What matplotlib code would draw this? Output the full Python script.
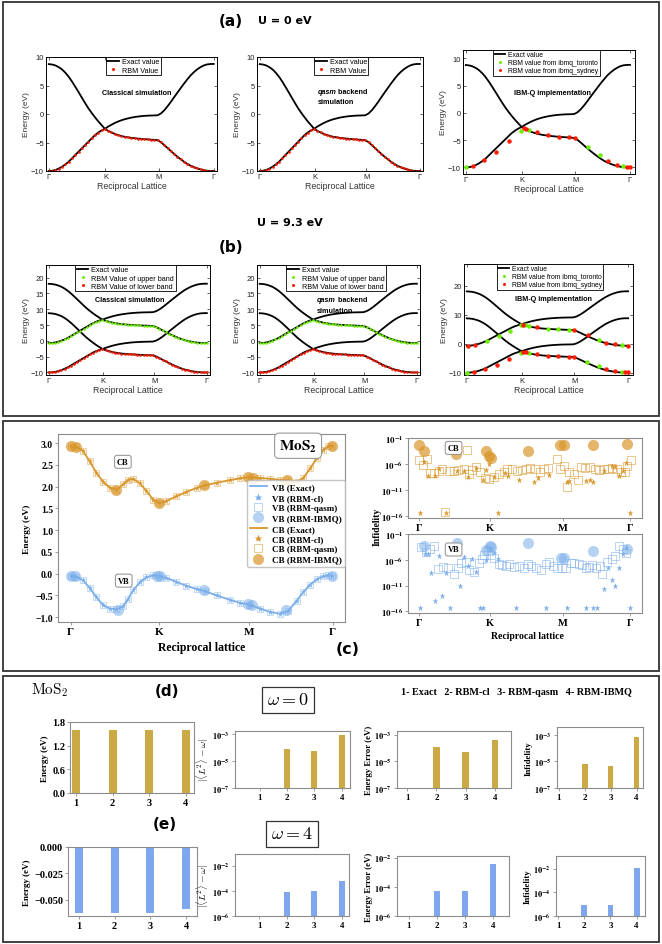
import numpy as np
import matplotlib
matplotlib.use("Agg")
import matplotlib.pyplot as plt
from matplotlib.patches import Rectangle
from matplotlib.lines import Line2D
from matplotlib.ticker import NullLocator

# ====================== DATA ======================
# (a) U = 0 eV bands along the Gamma-K-M-Gamma path (k-grid of the RBM samples)
band_k = np.linspace(0.0, 2.912, 51)
a_upper = [8.75, 8.68, 8.52, 8.22, 7.82, 7.25, 6.55, 5.72, 4.80, 3.85, 2.88, 1.92, 1.00, 0.18, -0.58, -1.30, -1.95, -2.60,
           -2.20, -1.88, -1.58, -1.32, -1.10, -0.92, -0.77, -0.64, -0.53, -0.45, -0.38, -0.33, -0.29, -0.27, -0.25, -0.22,
           0.10, 0.65, 1.35, 2.13, 2.95, 3.76, 4.55, 5.34, 6.08, 6.78, 7.35, 7.84, 8.22, 8.52, 8.70, 8.77, 8.78]
a_lower = [-10.0, -9.95, -9.83, -9.58, -9.25, -8.85, -8.38, -7.80, -7.20, -6.62, -6.03, -5.45, -4.87, -4.28, -3.70, -3.25, -2.88, -2.60,
           -2.95, -3.24, -3.50, -3.70, -3.86, -4.00, -4.10, -4.18, -4.25, -4.31, -4.37, -4.42, -4.46, -4.50, -4.54, -4.60,
           -4.95, -5.45, -5.98, -6.50, -7.00, -7.49, -7.95, -8.37, -8.75, -9.07, -9.33, -9.55, -9.72, -9.86, -9.95, -10.0, -10.0]
# (b) U = 9.3 eV : two extra bands
b_band1 = [18.05, 17.98, 17.82, 17.52, 17.12, 16.55, 15.85, 15.02, 14.10, 13.15, 12.18, 11.22, 10.30, 9.48, 8.72, 8.00, 7.35, 6.70,
           7.10, 7.42, 7.72, 7.98, 8.20, 8.38, 8.53, 8.66, 8.77, 8.85, 8.92, 8.97, 9.01, 9.03, 9.05, 9.08,
           9.40, 9.95, 10.65, 11.43, 12.25, 13.06, 13.85, 14.64, 15.38, 16.08, 16.65, 17.14, 17.52, 17.82, 18.00, 18.07, 18.08]
b_band3 = [-0.70, -0.65, -0.53, -0.28, 0.05, 0.45, 0.92, 1.50, 2.10, 2.68, 3.27, 3.85, 4.43, 5.02, 5.60, 6.05, 6.42, 6.70,
           6.35, 6.06, 5.80, 5.60, 5.44, 5.30, 5.20, 5.12, 5.05, 4.99, 4.93, 4.88, 4.84, 4.80, 4.76, 4.70,
           4.35, 3.85, 3.32, 2.80, 2.30, 1.81, 1.35, 0.93, 0.55, 0.23, -0.03, -0.25, -0.42, -0.56, -0.65, -0.70, -0.70]
# IBM-Q points, panel (a)
a_tor_k = [0.0, 0.98, 1.125, 2.167, 2.387, 2.794]
a_tor_e = [-10.0, -3.3, -3.1, -6.3, -7.8, -9.75]
a_syd_k = [0.125, 0.325, 0.544, 0.763, 1.023, 1.068, 1.268, 1.456, 1.649, 1.837, 1.94, 2.52, 2.678, 2.85, 2.91]
a_syd_e = [-9.8, -8.7, -7.2, -5.2, -2.7, -2.9, -3.6, -4.1, -4.35, -4.5, -4.6, -8.9, -9.55, -9.9, -9.9]
# IBM-Q points, panel (b)
b_tor_up_k = [0.36, 0.58, 0.78, 0.98, 1.05, 1.125, 1.46, 1.65, 1.84, 2.39, 2.80]
b_tor_up_e = [0.9, 2.7, 4.3, 6.5, 6.4, 6.0, 5.2, 4.95, 4.75, 1.2, -0.55]
b_syd_up_k = [0.025, 0.14, 1.02, 1.27, 1.94, 2.18, 2.52, 2.68, 2.91]
b_syd_up_e = [-0.65, -0.55, 6.6, 5.7, 4.7, 2.85, 0.35, -0.25, -0.68]
b_tor_lo_k = [0.0, 0.98, 1.125, 2.167, 2.387, 2.794]
b_tor_lo_e = [-10.0, -3.3, -3.1, -6.3, -7.8, -9.75]
b_syd_lo_k = [0.125, 0.325, 0.544, 0.763, 1.02, 1.06, 1.27, 1.46, 1.65, 1.84, 1.94, 2.52, 2.68, 2.85, 2.91]
b_syd_lo_e = [-9.8, -8.7, -7.2, -5.2, -2.75, -2.9, -3.7, -4.2, -4.4, -4.55, -4.7, -8.9, -9.5, -9.85, -9.9]

# (c) MoS2 bands
c_k = [0.000, 0.064, 0.140, 0.215, 0.291, 0.366, 0.442, 0.517, 0.592, 0.649, 0.706, 0.781, 0.857, 0.932, 1.000,
       1.083, 1.196, 1.309, 1.423, 1.517, 1.649, 1.800, 1.913, 2.019, 2.140, 2.253, 2.366, 2.460, 2.555, 2.630,
       2.706, 2.781, 2.857, 2.913, 2.958]
c_cb = [2.93, 2.92, 2.82, 2.58, 2.32, 2.11, 1.98, 1.93, 2.05, 2.16, 2.18, 2.08, 1.90, 1.70, 1.62,
        1.67, 1.78, 1.88, 1.97, 2.03, 2.09, 2.15, 2.19, 2.22, 2.20, 2.18, 2.16, 2.15, 2.10, 2.20,
        2.42, 2.65, 2.85, 2.93, 2.93]
c_vb = [-0.05, -0.07, -0.15, -0.33, -0.54, -0.72, -0.80, -0.82, -0.75, -0.58, -0.38, -0.20, -0.08, -0.04, -0.05,
        -0.10, -0.19, -0.28, -0.35, -0.40, -0.50, -0.60, -0.67, -0.71, -0.80, -0.88, -0.92, -0.85, -0.62, -0.42,
        -0.25, -0.13, -0.06, -0.04, -0.05]
cb_ibm_k = [0.0, 0.06, 0.51, 1.0, 1.51, 2.0, 2.06, 2.44, 2.95]
cb_ibm_e = [2.93, 2.90, 1.92, 1.62, 2.03, 2.22, 2.20, 2.15, 2.93]
vb_ibm_k = [0.0, 0.05, 0.53, 0.98, 1.01, 1.51, 2.0, 2.05, 2.43, 2.95]
vb_ibm_e = [-0.05, -0.06, -0.83, -0.06, -0.05, -0.37, -0.70, -0.72, -0.84, -0.05]

# (c) infidelities (log10)
cb_sq_k = [0.0, 0.056, 0.112, 0.164, 0.220, 0.280, 0.327, 0.374, 0.421, 0.491, 0.551, 0.631, 0.678, 0.710, 0.748,
           0.804, 0.864, 0.935, 0.991, 1.051, 1.121, 1.192, 1.238, 1.308, 1.379, 1.449, 1.509, 1.565, 1.636, 1.696,
           1.752, 1.813, 1.939, 1.986, 2.033, 2.079, 2.103, 2.173, 2.234, 2.280, 2.336, 2.407, 2.477, 2.523, 2.593,
           2.654, 2.710, 2.780, 2.841, 2.888, 2.925, 2.981]
cb_sq_log = [-5.3, -6.1, -5.0, -7.7, -7.6, -7.4, -6.9, -15.2, -7.35, -7.35, -7.2, -6.9, -3.2, -7.9, -7.2,
             -6.6, -7.5, -8.7, -8.8, -8.5, -7.9, -7.5, -6.9, -7.0, -7.4, -7.2, -7.0, -6.8, -6.9, -7.5,
             -7.0, -6.8, -5.0, -6.9, -6.4, -10.4, -7.5, -7.9, -9.1, -6.6, -6.8, -6.5, -6.9, -7.2, -6.9,
             -7.0, -6.8, -6.9, -7.5, -7.5, -6.4, -5.3]
cb_st_k = [0.014, 0.074, 0.130, 0.223, 0.284, 0.386, 0.540, 0.642, 0.698, 0.805, 0.898, 0.944, 0.991, 1.060, 1.107,
           1.209, 1.256, 1.409, 1.619, 1.674, 1.828, 2.074, 2.107, 2.349, 2.395, 2.447, 2.595, 2.712, 2.758, 2.805,
           2.865, 2.912, 2.967]
cb_st_log = [-15.4, -5.57, -8.18, -8.18, -7.0, -15.4, -7.39, -7.39, -8.37, -6.74, -9.02, -7.2, -5.89, -8.37, -15.4,
             -7.65, -8.18, -8.96, -9.35, -8.7, -8.05, -9.48, -9.22, -9.15, -9.02, -9.35, -7.39, -6.41, -6.54, -8.18,
             -7.39, -5.7, -15.4]
cb_ci_k = [0.0, 0.074, 0.526, 0.944, 0.991, 1.014, 1.526, 1.981, 2.037, 2.447, 2.921]
cb_ci_log = [-2.3, -3.48, -4.13, -3.48, -4.39, -4.91, -3.48, -2.43, -2.3, -2.3, -2.17]
vb_sq_k = [0.037, 0.107, 0.153, 0.214, 0.270, 0.340, 0.409, 0.493, 0.549, 0.595, 0.665, 0.712, 0.781, 0.842, 0.884,
           0.921, 0.977, 1.014, 1.060, 1.130, 1.163, 1.223, 1.270, 1.340, 1.409, 1.479, 1.526, 1.581, 1.642, 1.712,
           1.781, 1.828, 1.888, 1.944, 2.014, 2.060, 2.130, 2.177, 2.247, 2.293, 2.340, 2.386, 2.433, 2.479, 2.540,
           2.572, 2.642, 2.712, 2.758, 2.805, 2.865, 2.912]
vb_sq_log = [-3.6, -4.4, -3.9, -3.3, -7.85, -7.4, -7.5, -8.8, -7.65, -6.7, -6.4, -8.0, -8.4, -6.7, -5.9,
             -5.1, -4.3, -5.0, -5.6, -6.9, -7.0, -7.2, -6.9, -7.4, -7.2, -7.5, -6.9, -7.2, -7.5, -8.0,
             -6.9, -6.4, -7.2, -7.65, -7.5, -7.5, -6.7, -6.7, -6.9, -7.1, -7.65, -7.4, -7.1, -7.5, -7.2,
             -8.7, -6.5, -5.9, -5.2, -3.3, -3.9, -4.6]
vb_st_k = [0.014, 0.084, 0.130, 0.177, 0.223, 0.279, 0.330, 0.386, 0.433, 0.586, 0.642, 0.688, 0.744, 0.805, 0.865,
           0.898, 0.944, 1.005, 1.051, 1.107, 1.363, 1.781, 2.084, 2.340, 2.447, 2.493, 2.595, 2.656, 2.712, 2.758,
           2.809, 2.865, 2.912, 2.967]
vb_st_log = [-15.4, -4.78, -4.78, -8.5, -14.05, -5.24, -13.07, -8.5, -15.4, -11.1, -5.44, -7.2, -5.76, -8.37, -15.4,
             -15.4, -6.09, -3.74, -4.59, -5.89, -15.4, -15.4, -15.4, -15.4, -15.4, -15.4, -11.63, -7.52, -9.94, -11.1,
             -7.65, -4.91, -3.74, -15.4]
vb_ci_k = [0.074, 0.535, 0.944, 1.0, 1.014, 1.526, 1.991, 2.037, 2.447, 2.921]
vb_ci_log = [-3.28, -2.83, -4.13, -3.28, -3.48, -2.83, -5.7, -5.57, -4.26, -3.94]

# (d) omega = 0 and (e) omega = 4 bar charts
methods = [1, 2, 3, 4]
methods_rbm = [2, 3, 4]
d_energy = [1.60, 1.60, 1.60, 1.60]
d_l2 = [8.3e-5, 5.6e-5, 8.5e-4]
d_err = [1.1e-4, 4.7e-5, 3.8e-4]
d_inf = [6.6e-6, 4.5e-6, 7.0e-4]
e_energy = [-0.0625, -0.0625, -0.0625, -0.0593]
e_l2 = [8.3e-5, 1.0e-4, 5.6e-4]
e_err = [5.0e-5, 5.5e-5, 3.5e-3]
e_inf = [8.7e-6, 8.7e-6, 1.2e-2]

path_labels = ['Γ', 'K', 'M', 'Γ']
ab_ticks = [0.0, 1.0, 1.94, 2.91]
c_ticks = [0.0, 1.0, 2.02, 2.96]

# ====================== STYLE ======================
plt.rcParams['font.family'] = ['Liberation Sans', 'DejaVu Sans']
plt.rcParams['mathtext.fontset'] = 'stix'
SERIF = 'Liberation Serif'
CB_C = '#D9962B'
VB_C = '#7AAEEA'
BAR_D = '#CBAA45'
BAR_E = '#7EA7EE'
GREEN = '#6CF000'
RED = '#FF1A00'

W, H = 662, 945
fig = plt.figure(figsize=(W / 100, H / 100), dpi=100)


def rect(x0, y0, x1, y1):
    return [x0 / W, 1 - y1 / H, (x1 - x0) / W, (y1 - y0) / H]


def ftext(x, y, s, **kw):
    return fig.text(x / W, 1 - y / H, s, **kw)


# outer frames
for (x0, y0, x1, y1) in [(3, 3, 659, 417), (3, 422, 659, 672), (3, 677, 659, 943)]:
    fig.add_artist(Rectangle((x0 / W, 1 - y1 / H), (x1 - x0) / W, (y1 - y0) / H,
                             transform=fig.transFigure, fill=False, lw=1.3, ec='#333333'))


def mat_axes(px, ylim, yticks, xlim):
    ax = fig.add_axes(rect(*px))
    ax.set_xlim(*xlim)
    ax.set_ylim(*ylim)
    ax.set_xticks(ab_ticks, path_labels)
    ax.set_yticks(yticks)
    ax.tick_params(direction='in', length=2.5, width=0.5, labelsize=5.5, top=True, right=True, pad=1.5,
                   colors='#222222')
    for s in ax.spines.values():
        s.set_linewidth(0.7)
    ax.set_xlabel('Reciprocal Lattice', fontsize=6.3, labelpad=1.0, color='#333333')
    ax.set_ylabel('Energy (eV)', fontsize=6, labelpad=0.5, color='#333333')
    return ax


def mat_legend(ax, handles, labels, xc, fs=5.2):
    leg = ax.legend(handles, labels, loc='upper center', bbox_to_anchor=(xc, 1.0), fontsize=fs,
                    frameon=True, fancybox=False, edgecolor='black', framealpha=1, borderpad=0.2,
                    labelspacing=0.15, handlelength=1.6, handletextpad=0.4, borderaxespad=0)
    leg.get_frame().set_linewidth(0.6)


exact_h = Line2D([], [], color='black', lw=1.3)
red_h = Line2D([], [], ls='none', marker='o', ms=2.2, color=RED, mec='none')
green_h = Line2D([], [], ls='none', marker='o', ms=2.2, color=GREEN, mec='none')

# ---------- (a) ----------
ftext(231, 21, '(a)', fontsize=11, weight='bold', family='DejaVu Sans', ha='center', va='center')
ftext(285, 21, 'U = 0 eV', fontsize=8, weight='bold', family='DejaVu Sans', ha='center', va='center')
AB_X = (-0.05, 2.97)
for i, px in enumerate([(46, 58, 217, 172), (257, 58, 423, 172)]):
    ax = mat_axes(px, (-10, 10), [-10, -5, 0, 5, 10], AB_X)
    ax.plot(band_k, a_upper, 'k-', lw=1.3)
    ax.plot(band_k, a_lower, 'k-', lw=1.3)
    ax.plot(band_k, a_lower, 'o', color=RED, ms=1.9, mec='none')
    mat_legend(ax, [exact_h, red_h], ['Exact value', 'RBM Value'], 0.51 if i == 0 else 0.506)
    if i == 0:
        ax.text(0.53, 0.69, 'Classical simulation', transform=ax.transAxes, ha='center', va='center',
                fontsize=5.2, weight='bold')
    else:
        t1 = ax.text(0.364, 0.693, 'qasm', transform=ax.transAxes, ha='left', va='center',
                     fontsize=5.2, weight='bold', style='italic')
        ax.annotate(' backend', xy=(1, 0.5), xycoords=t1, ha='left', va='center', fontsize=5.2, weight='bold')
        ax.text(0.364, 0.614, 'simulation', transform=ax.transAxes, ha='left', va='center',
                fontsize=5.2, weight='bold')

ax = mat_axes((463, 51, 635, 175), (-11.2, 11.5), [-10, -5, 0, 5, 10], (-0.05, 3.0))
ax.plot(band_k, a_upper, 'k-', lw=1.3)
ax.plot(band_k, a_lower, 'k-', lw=1.3)
ax.plot(a_tor_k, a_tor_e, 'o', color=GREEN, ms=3.2, mec='none', zorder=4)
ax.plot(a_syd_k, a_syd_e, 'o', color=RED, ms=3.2, mec='none', zorder=4)
mat_legend(ax, [exact_h, green_h, red_h], ['Exact value', 'RBM value from ibmq_toronto',
                                           'RBM value from ibmq_sydney'], 0.485, fs=4.9)
ax.text(0.52, 0.66, 'IBM-Q implementation', transform=ax.transAxes, ha='center', va='center',
        fontsize=5.2, weight='bold')

# ---------- (b) ----------
ftext(290, 223, 'U = 9.3 eV', fontsize=8, weight='bold', family='DejaVu Sans', ha='center', va='center')
ftext(231, 247, '(b)', fontsize=11, weight='bold', family='DejaVu Sans', ha='center', va='center')
for i, px in enumerate([(46, 266, 210, 376), (257, 266, 420, 376)]):
    ax = mat_axes(px, (-10.8, 24), [-10, -5, 0, 5, 10, 15, 20], AB_X)
    for band in (b_band1, a_upper, b_band3, a_lower):
        ax.plot(band_k, band, 'k-', lw=1.3)
    ax.plot(band_k, b_band3, 'o', color=GREEN, ms=1.9, mec='none')
    ax.plot(band_k, a_lower, 'o', color=RED, ms=1.9, mec='none')
    mat_legend(ax, [exact_h, green_h, red_h], ['Exact value', 'RBM Value of upper band',
                                               'RBM Value of lower band'], 0.485)
    if i == 0:
        ax.text(0.51, 0.69, 'Classical simulation', transform=ax.transAxes, ha='center', va='center',
                fontsize=5.2, weight='bold')
    else:
        t1 = ax.text(0.366, 0.69, 'qasm', transform=ax.transAxes, ha='left', va='center',
                     fontsize=5.2, weight='bold', style='italic')
        ax.annotate(' backend', xy=(1, 0.5), xycoords=t1, ha='left', va='center', fontsize=5.2, weight='bold')
        ax.text(0.366, 0.59, 'simulation', transform=ax.transAxes, ha='left', va='center',
                fontsize=5.2, weight='bold')

ax = mat_axes((464, 265, 633, 376), (-10.8, 27.5), [-10, 0, 10, 20], (-0.05, 3.0))
for band in (b_band1, a_upper, b_band3, a_lower):
    ax.plot(band_k, band, 'k-', lw=1.3)
ax.plot(b_tor_up_k, b_tor_up_e, 'o', color=GREEN, ms=3.2, mec='none', zorder=4)
ax.plot(b_syd_up_k, b_syd_up_e, 'o', color=RED, ms=3.2, mec='none', zorder=4)
ax.plot(b_tor_lo_k, b_tor_lo_e, 'o', color=GREEN, ms=3.2, mec='none', zorder=4)
ax.plot(b_syd_lo_k, b_syd_lo_e, 'o', color=RED, ms=3.2, mec='none', zorder=4)
mat_legend(ax, [exact_h, green_h, red_h], ['Exact value', 'RBM value from ibmq_toronto',
                                           'RBM value from ibmq_sydney'], 0.51, fs=4.9)
ax.text(0.53, 0.69, 'IBM-Q implementation', transform=ax.transAxes, ha='center', va='center',
        fontsize=5.2, weight='bold')


# ---------- (c) ----------
def sb_style(ax):
    for s in ax.spines.values():
        s.set_color('#8c8c8c')
        s.set_linewidth(0.8)
    ax.tick_params(length=2, width=0.6, color='#8c8c8c', pad=1.5)


SB = dict(fontfamily=SERIF, fontweight='bold')
box_kw = dict(boxstyle='round,pad=0.3', fc='white', ec='#999999', lw=0.8)

ax = fig.add_axes(rect(58, 435, 345, 623))
sb_style(ax)
ax.plot(c_k, c_cb, '-', color=CB_C, lw=1.3, zorder=2)
ax.plot(c_k, c_vb, '-', color=VB_C, lw=1.3, zorder=2)
ax.plot(c_k, c_cb, 's', ms=5, mfc='none', mec=CB_C, mew=0.6, alpha=0.5, zorder=3)
ax.plot(c_k, c_vb, 's', ms=5, mfc='none', mec=VB_C, mew=0.6, alpha=0.5, zorder=3)
ax.plot(c_k, c_cb, '*', ms=5, color=CB_C, mec='none', alpha=0.9, zorder=4)
ax.plot(c_k, c_vb, '*', ms=5, color=VB_C, mec='none', alpha=0.9, zorder=4)
ax.plot(cb_ibm_k, cb_ibm_e, 'o', ms=8, color=CB_C, alpha=0.7, mec='none', zorder=5)
ax.plot(vb_ibm_k, vb_ibm_e, 'o', ms=8, color=VB_C, alpha=0.55, mec='none', zorder=5)
ax.set_xlim(-0.143, 3.10)
ax.set_ylim(-1.11, 3.21)
ax.set_xticks(c_ticks, path_labels, fontsize=8, **SB)
yt = [3.0, 2.5, 2.0, 1.5, 1.0, 0.5, 0.0, -0.5, -1.0]
ax.set_yticks(yt, [f'{v:.1f}'.replace('-', '\u2212') for v in yt], fontsize=7, **SB)
ax.set_ylabel('Energy (eV)', fontsize=6.8, labelpad=3, **SB)
ax.set_xlabel('Reciprocal lattice', fontsize=8.5, labelpad=4, **SB)
ax.text(0.59, 2.57, 'CB', fontsize=6, ha='center', va='center', bbox=box_kw, zorder=6, **SB)
ax.text(0.60, -0.16, 'VB', fontsize=6, ha='center', va='center', bbox=box_kw, zorder=6, **SB)
ax.text(2.57, 2.94, r'$\mathbf{MoS_2}$', fontsize=11, ha='center', va='center', bbox=box_kw, zorder=6)
hand = [Line2D([], [], color=VB_C, lw=1.3),
        Line2D([], [], ls='none', marker='*', ms=6, color=VB_C, mec='none'),
        Line2D([], [], ls='none', marker='s', ms=6, mfc='none', mec=VB_C, mew=0.6, alpha=0.6),
        Line2D([], [], ls='none', marker='o', ms=8, color=VB_C, mec='none', alpha=0.55),
        Line2D([], [], color=CB_C, lw=1.3),
        Line2D([], [], ls='none', marker='*', ms=6, color=CB_C, mec='none'),
        Line2D([], [], ls='none', marker='s', ms=6, mfc='none', mec=CB_C, mew=0.6, alpha=0.6),
        Line2D([], [], ls='none', marker='o', ms=8, color=CB_C, mec='none', alpha=0.7)]
labs = ['VB (Exact)', 'VB (RBM-cl)', 'VB (RBM-qasm)', 'VB (RBM-IBMQ)',
        'CB (Exact)', 'CB (RBM-cl)', 'CB (RBM-qasm)', 'CB (RBM-IBMQ)']
leg = ax.legend(hand, labs, loc='upper right', bbox_to_anchor=(1.0, 0.755), borderaxespad=0,
                prop=dict(family=SERIF, weight='bold', size=6.5), labelspacing=0.22, handlelength=1.8,
                handletextpad=0.6, borderpad=0.35, framealpha=0.85, edgecolor='#bbbbbb')
leg.set_zorder(7)
ftext(348, 649, '(c)', fontsize=11.5, weight='bold', family='DejaVu Sans', ha='center', va='center')


def log_ticks(ax, exps, fs):
    ax.set_yticks([10.0 ** e for e in exps], [r'$\mathbf{10^{%d}}$' % e for e in exps], fontsize=fs)
    ax.yaxis.set_minor_locator(NullLocator())


panels = [((408, 439, 642, 519), cb_sq_k, cb_sq_log, cb_st_k, cb_st_log, cb_ci_k, cb_ci_log, CB_C, 'CB', -2.9, 0.7),
          ((408, 535, 642, 614), vb_sq_k, vb_sq_log, vb_st_k, vb_st_log, vb_ci_k, vb_ci_log, VB_C, 'VB', -4.0, 0.55)]
for px, sqk, sql, stk, stl, cik, cil, col, lab, laby, calpha in panels:
    ax = fig.add_axes(rect(*px))
    sb_style(ax)
    ax.set_yscale('log')
    ax.plot(sqk, 10.0 ** np.array(sql), 's', ms=5.5, mfc='none', mec=col, mew=0.7, alpha=0.55)
    ax.plot(stk, 10.0 ** np.array(stl), '*', ms=5, color=col, mec='none')
    ax.plot(cik, 10.0 ** np.array(cil), 'o', ms=8, color=col, mec='none', alpha=calpha)
    ax.set_xlim(-0.149, 3.13)
    ax.set_ylim(10 ** -16.3, 10 ** -1)
    log_ticks(ax, [-1, -6, -11, -16], 6.5)
    ax.set_xticks([0.0, 1.0, 2.023, 2.958], path_labels, fontsize=7.5, **SB)
    ax.text(0.49, 10 ** laby, lab, fontsize=6, ha='center', va='center', bbox=box_kw, zorder=6, **SB)
ftext(377, 527, 'Infidelity', rotation=90, fontsize=7, ha='center', va='center', **SB)
ftext(527, 637, 'Reciprocal lattice', fontsize=7, ha='center', va='center', **SB)

# ---------- (d) & (e) ----------
ftext(50, 690, r'$\mathrm{MoS_2}$', fontsize=11, math_fontfamily='cm', ha='center', va='center')
ftext(167, 692, '(d)', fontsize=11, weight='bold', family='DejaVu Sans', ha='center', va='center')
ftext(165, 825, '(e)', fontsize=11, weight='bold', family='DejaVu Sans', ha='center', va='center')
om_box = dict(boxstyle='square,pad=0.25', fc='white', ec='#333333', lw=0.9)
ftext(288, 701, r'$\omega = 0$', fontsize=13, math_fontfamily='cm', ha='center', va='center', bbox=om_box)
ftext(292, 835, r'$\omega = 4$', fontsize=13, math_fontfamily='cm', ha='center', va='center', bbox=om_box)
ftext(516, 693, '1- Exact   2- RBM-cl   3- RBM-qasm   4- RBM-IBMQ', fontsize=7.3, ha='center', va='center', **SB)


def bar_axes(px, xlim):
    ax = fig.add_axes(rect(*px))
    sb_style(ax)
    ax.set_xlim(*xlim)
    return ax


def lin_bar(px, xlim, vals, col, ylim, yt, ytl):
    ax = bar_axes(px, xlim)
    ax.bar(methods, vals, width=0.22, color=col)
    ax.set_ylim(*ylim)
    ax.set_yticks(yt, ytl, fontsize=7.5, **SB)
    ax.set_xticks(methods, [str(m) for m in methods], fontsize=7.5, **SB)
    ax.set_ylabel('Energy (eV)', fontsize=6.5, labelpad=2, **SB)
    return ax


def log_bar(px, xlim, vals, col, lo, top, exps, ylabel, math=False):
    ax = bar_axes(px, xlim)
    ax.set_yscale('log')
    ax.bar(methods_rbm, np.array(vals) - lo, bottom=lo, width=0.22, color=col)
    ax.set_ylim(lo, top)
    log_ticks(ax, exps, 6)
    ax.set_xticks(methods, [str(m) for m in methods], fontsize=6.5, **SB)
    if math:
        ax.set_ylabel(ylabel, fontsize=7, labelpad=1, math_fontfamily='cm')
    else:
        ax.set_ylabel(ylabel, fontsize=6.3, labelpad=1, **SB)
    return ax


L2LAB = r'$|\langle L^2\rangle - \omega|$'
lin_bar((70, 723, 194, 794), (0.83, 4.23), d_energy, BAR_D, (0, 1.8), [0.0, 0.6, 1.2, 1.8],
        ['0.0', '0.6', '1.2', '1.8'])
log_bar((235, 732, 350, 789), (0.1, 4.3), d_l2, BAR_D, 1e-7, 10 ** -2.75, [-7, -5, -3], L2LAB, math=True)
log_bar((397, 732, 511, 789), (0.65, 4.55), d_err, BAR_D, 1e-7, 10 ** -2.73, [-7, -5, -3], 'Energy Error (eV)')
log_bar((557, 728, 643, 789), (0.93, 4.25), d_inf, BAR_D, 1e-7, 10 ** -2.4, [-7, -5, -3], 'Infidelity')

lin_bar((68, 848, 197, 917), (0.7, 4.3), e_energy, BAR_E, (-0.0657, 0.0), [0.0, -0.025, -0.05],
        ['0.000', '\u22120.025', '\u22120.050'])
log_bar((235, 855, 349, 917), (0.12, 4.26), e_l2, BAR_E, 1e-6, 10 ** -1.07, [-6, -4, -2], L2LAB, math=True)
log_bar((397, 857, 509, 917), (0.58, 4.56), e_err, BAR_E, 1e-6, 10 ** -1.88, [-6, -4, -2], 'Energy Error (eV)')
log_bar((556, 857, 645, 917), (0.92, 4.32), e_inf, BAR_E, 1e-6, 10 ** -0.94, [-6, -4, -2], 'Infidelity')

fig.savefig('out.png', dpi=100)
